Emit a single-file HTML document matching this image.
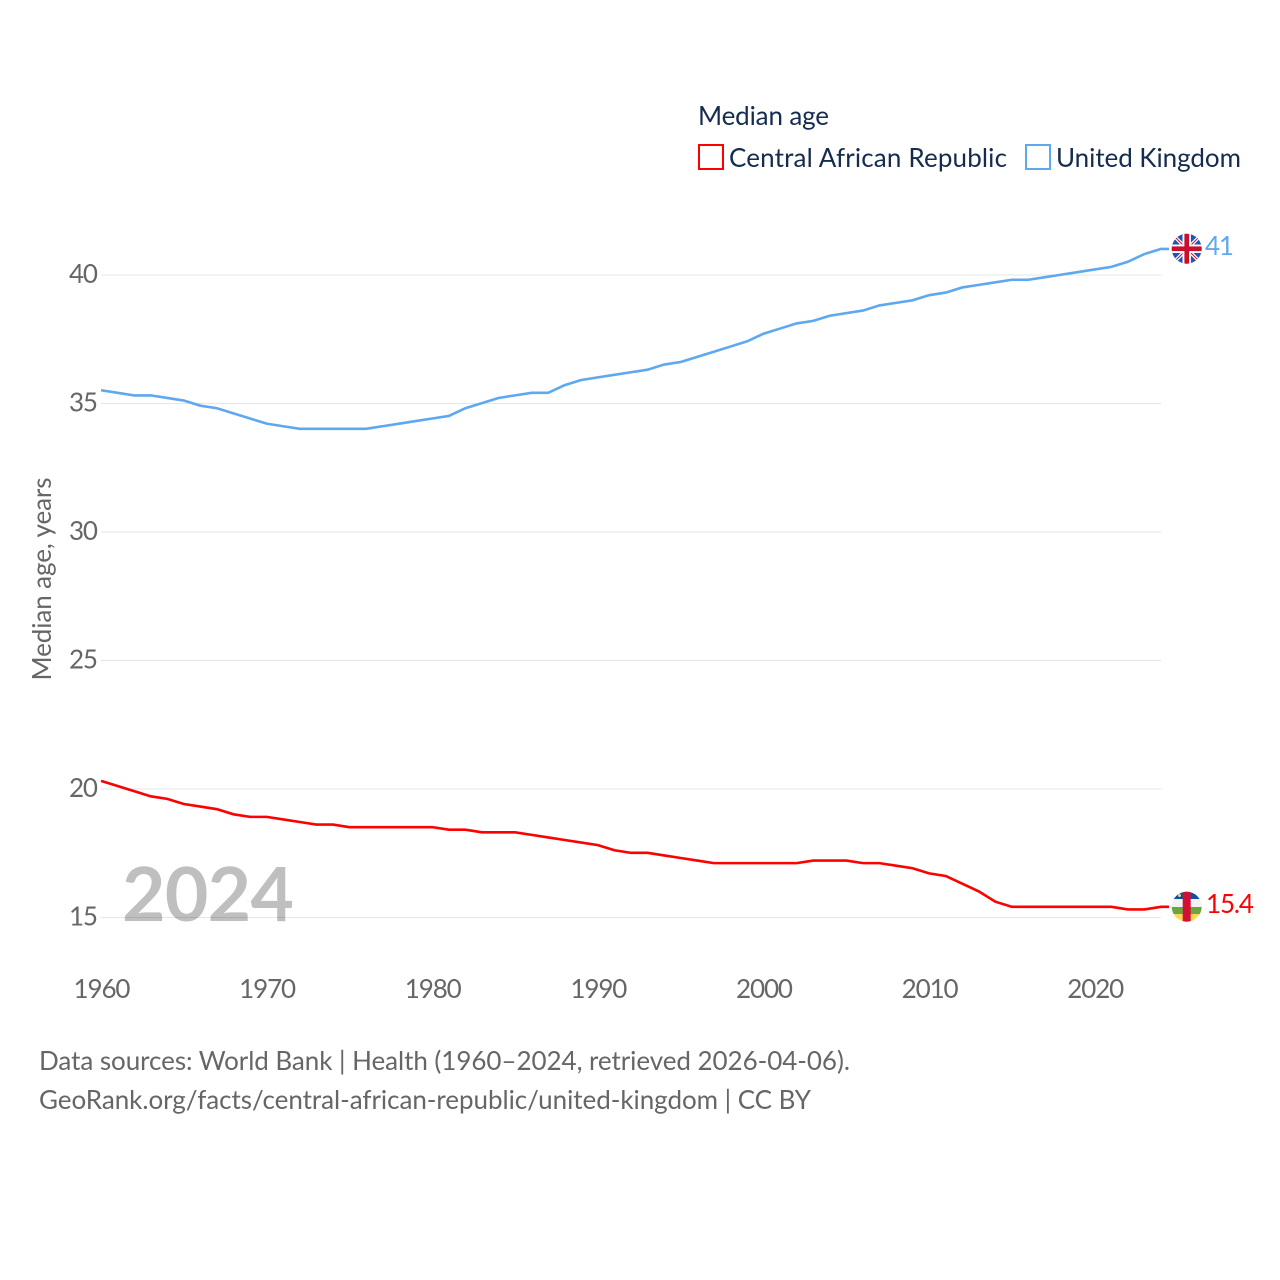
<!DOCTYPE html>
<html lang="en">
<head>
<meta charset="utf-8">
<title>Median age: Central African Republic vs United Kingdom</title>
<style>
html,body{margin:0;padding:0;background:#fff;width:1280px;height:1280px;overflow:hidden}
svg{display:block}
text{font-family:"Lato","Carlito","Liberation Sans",sans-serif}
</style>
</head>
<body>
<svg id="chart" xmlns="http://www.w3.org/2000/svg" width="1280" height="1280" viewBox="0 0 1280 1280">
  <defs>
    <clipPath id="clip-uk"><circle cx="1186.7" cy="248.7" r="15"/></clipPath>
    <clipPath id="clip-car"><circle cx="1186.7" cy="906.7" r="15"/></clipPath>
  </defs>
  <g id="grid"></g>
  <g id="yticks"></g>
  <g id="xticks"></g>
  <text x="0" y="0" transform="translate(51,579) rotate(-90)" text-anchor="middle" font-size="26" fill="#666" textLength="203" lengthAdjust="spacing">Median age, years</text>
  <text x="122" y="921" font-size="75" font-weight="700" fill="#000" fill-opacity="0.25" textLength="172" lengthAdjust="spacing">2024</text>
  <g id="series"></g>

  <text x="698" y="125" font-size="26" fill="#152c4f" textLength="131" lengthAdjust="spacing">Median age</text>
  <g>
    <rect x="699" y="145" width="24" height="24" fill="#fff" stroke="#ff0000" stroke-width="2"/>
    <text x="729" y="167" font-size="26" fill="#152c4f" textLength="278" lengthAdjust="spacing">Central African Republic</text>
  </g>
  <g>
    <rect x="1026" y="145" width="24" height="24" fill="#fff" stroke="#5ea8f0" stroke-width="2"/>
    <text x="1056" y="167" font-size="26" fill="#152c4f" textLength="185" lengthAdjust="spacing">United Kingdom</text>
  </g>

  <g clip-path="url(#clip-uk)">
    <rect x="1171" y="233" width="32" height="32" fill="#1f55b5"/>
    <path d="M1171 233L1203 265M1203 233L1171 265" stroke="#fff" stroke-width="3.5"/>
    <path d="M1171 233L1203 265M1203 233L1171 265" stroke="#c8102e" stroke-width="1"/>
    <rect x="1182.5" y="233" width="8.5" height="32" fill="#fff"/>
    <rect x="1171" y="244.5" width="32" height="8.5" fill="#fff"/>
    <rect x="1184.4" y="233" width="4.7" height="32" fill="#c8102e"/>
    <rect x="1171" y="246.4" width="32" height="4.7" fill="#c8102e"/>
  </g>
  <g clip-path="url(#clip-car)">
    <rect x="1171" y="891" width="32" height="8" fill="#0f4fa8"/>
    <rect x="1171" y="899" width="32" height="8" fill="#f2f2f2"/>
    <rect x="1171" y="907" width="32" height="7" fill="#6aa53f"/>
    <rect x="1171" y="914" width="32" height="8" fill="#fcd856"/>
    <rect x="1182.7" y="891" width="8" height="32" fill="#d21034"/>
    <circle cx="1179.5" cy="895.5" r="1.5" fill="#fcd856"/>
  </g>
  <text x="1205" y="255" font-size="26" fill="#5ea8f0" textLength="29" lengthAdjust="spacing">41</text>
  <text x="1206" y="913" font-size="26" fill="#ff0000" textLength="48" lengthAdjust="spacing">15.4</text>

  <text x="39" y="1070" font-size="26" fill="#666" textLength="811" lengthAdjust="spacing">Data sources: World Bank | Health (1960–2024, retrieved 2026-04-06).</text>
  <text x="39" y="1109" font-size="26" fill="#666" textLength="772" lengthAdjust="spacing">GeoRank.org/facts/central-african-republic/united-kingdom | CC BY</text>
</svg>
<script>
const startYear = 1960;
const yTickValues = [15, 20, 25, 30, 35, 40];
const xTickValues = [1960, 1970, 1980, 1990, 2000, 2010, 2020];
const ukValues = [35.5,35.4,35.3,35.3,35.2,35.1,34.9,34.8,34.6,34.4,34.2,34.1,34.0,34.0,34.0,34.0,34.0,34.1,34.2,34.3,34.4,34.5,34.8,35.0,35.2,35.3,35.4,35.4,35.7,35.9,36.0,36.1,36.2,36.3,36.5,36.6,36.8,37.0,37.2,37.4,37.7,37.9,38.1,38.2,38.4,38.5,38.6,38.8,38.9,39.0,39.2,39.3,39.5,39.6,39.7,39.8,39.8,39.9,40.0,40.1,40.2,40.3,40.5,40.8,41.0];
const carValues = [20.3,20.1,19.9,19.7,19.6,19.4,19.3,19.2,19.0,18.9,18.9,18.8,18.7,18.6,18.6,18.5,18.5,18.5,18.5,18.5,18.5,18.4,18.4,18.3,18.3,18.3,18.2,18.1,18.0,17.9,17.8,17.6,17.5,17.5,17.4,17.3,17.2,17.1,17.1,17.1,17.1,17.1,17.1,17.2,17.2,17.2,17.1,17.1,17.0,16.9,16.7,16.6,16.3,16.0,15.6,15.4,15.4,15.4,15.4,15.4,15.4,15.4,15.3,15.3,15.4];

const SVG_NS = 'http://www.w3.org/2000/svg';
function xScale(year) { return 101 + (year - 1960) * (1161 - 101) / 64; }
function yScale(v) { return 917.5 - (v - 15) * (917.5 - 275) / 25; }

const grid = document.getElementById('grid');
const yticks = document.getElementById('yticks');
const xticks = document.getElementById('xticks');
const series = document.getElementById('series');

yTickValues.forEach(function (v) {
  const line = document.createElementNS(SVG_NS, 'line');
  line.setAttribute('x1', xScale(1960));
  line.setAttribute('x2', xScale(2024));
  line.setAttribute('y1', yScale(v));
  line.setAttribute('y2', yScale(v));
  line.setAttribute('stroke', '#e6e6e6');
  line.setAttribute('stroke-width', '1');
  
  
  grid.appendChild(line);

  const t = document.createElementNS(SVG_NS, 'text');
  t.setAttribute('x', 98);
  t.setAttribute('y', yScale(v) + 8);
  t.setAttribute('text-anchor', 'end');
  t.setAttribute('font-size', '26');
  t.setAttribute('fill', '#666');
  t.setAttribute('textLength', '29');
  t.setAttribute('lengthAdjust', 'spacing');
  
  
  t.textContent = v;
  yticks.appendChild(t);
});

xTickValues.forEach(function (year) {
  const t = document.createElementNS(SVG_NS, 'text');
  t.setAttribute('x', xScale(year) + 1);
  t.setAttribute('y', 998);
  t.setAttribute('text-anchor', 'middle');
  t.setAttribute('font-size', '26');
  t.setAttribute('fill', '#666');
  t.setAttribute('textLength', '57');
  t.setAttribute('lengthAdjust', 'spacing');
  
  
  t.textContent = year;
  xticks.appendChild(t);
});

function linePoints(values) {
  const pts = values.map(function (v, i) {
    return xScale(startYear + i).toFixed(2) + ',' + (yScale(v) - 0.4).toFixed(2);
  });
  const last = values[values.length - 1];
  pts.push((xScale(startYear + values.length - 1) + 8).toFixed(2) + ',' + (yScale(last) - 0.4).toFixed(2));
  return pts.join(' ');
}

const ukLine = document.createElementNS(SVG_NS, 'polyline');
ukLine.setAttribute('points', linePoints(ukValues));
ukLine.setAttribute('fill', 'none');
ukLine.setAttribute('stroke', '#5ea8f0');
ukLine.setAttribute('stroke-width', '2.6');


series.appendChild(ukLine);

const carLine = document.createElementNS(SVG_NS, 'polyline');
carLine.setAttribute('points', linePoints(carValues));
carLine.setAttribute('fill', 'none');
carLine.setAttribute('stroke', '#ff0000');
carLine.setAttribute('stroke-width', '2.6');


series.appendChild(carLine);
</script>
</body>
</html>
